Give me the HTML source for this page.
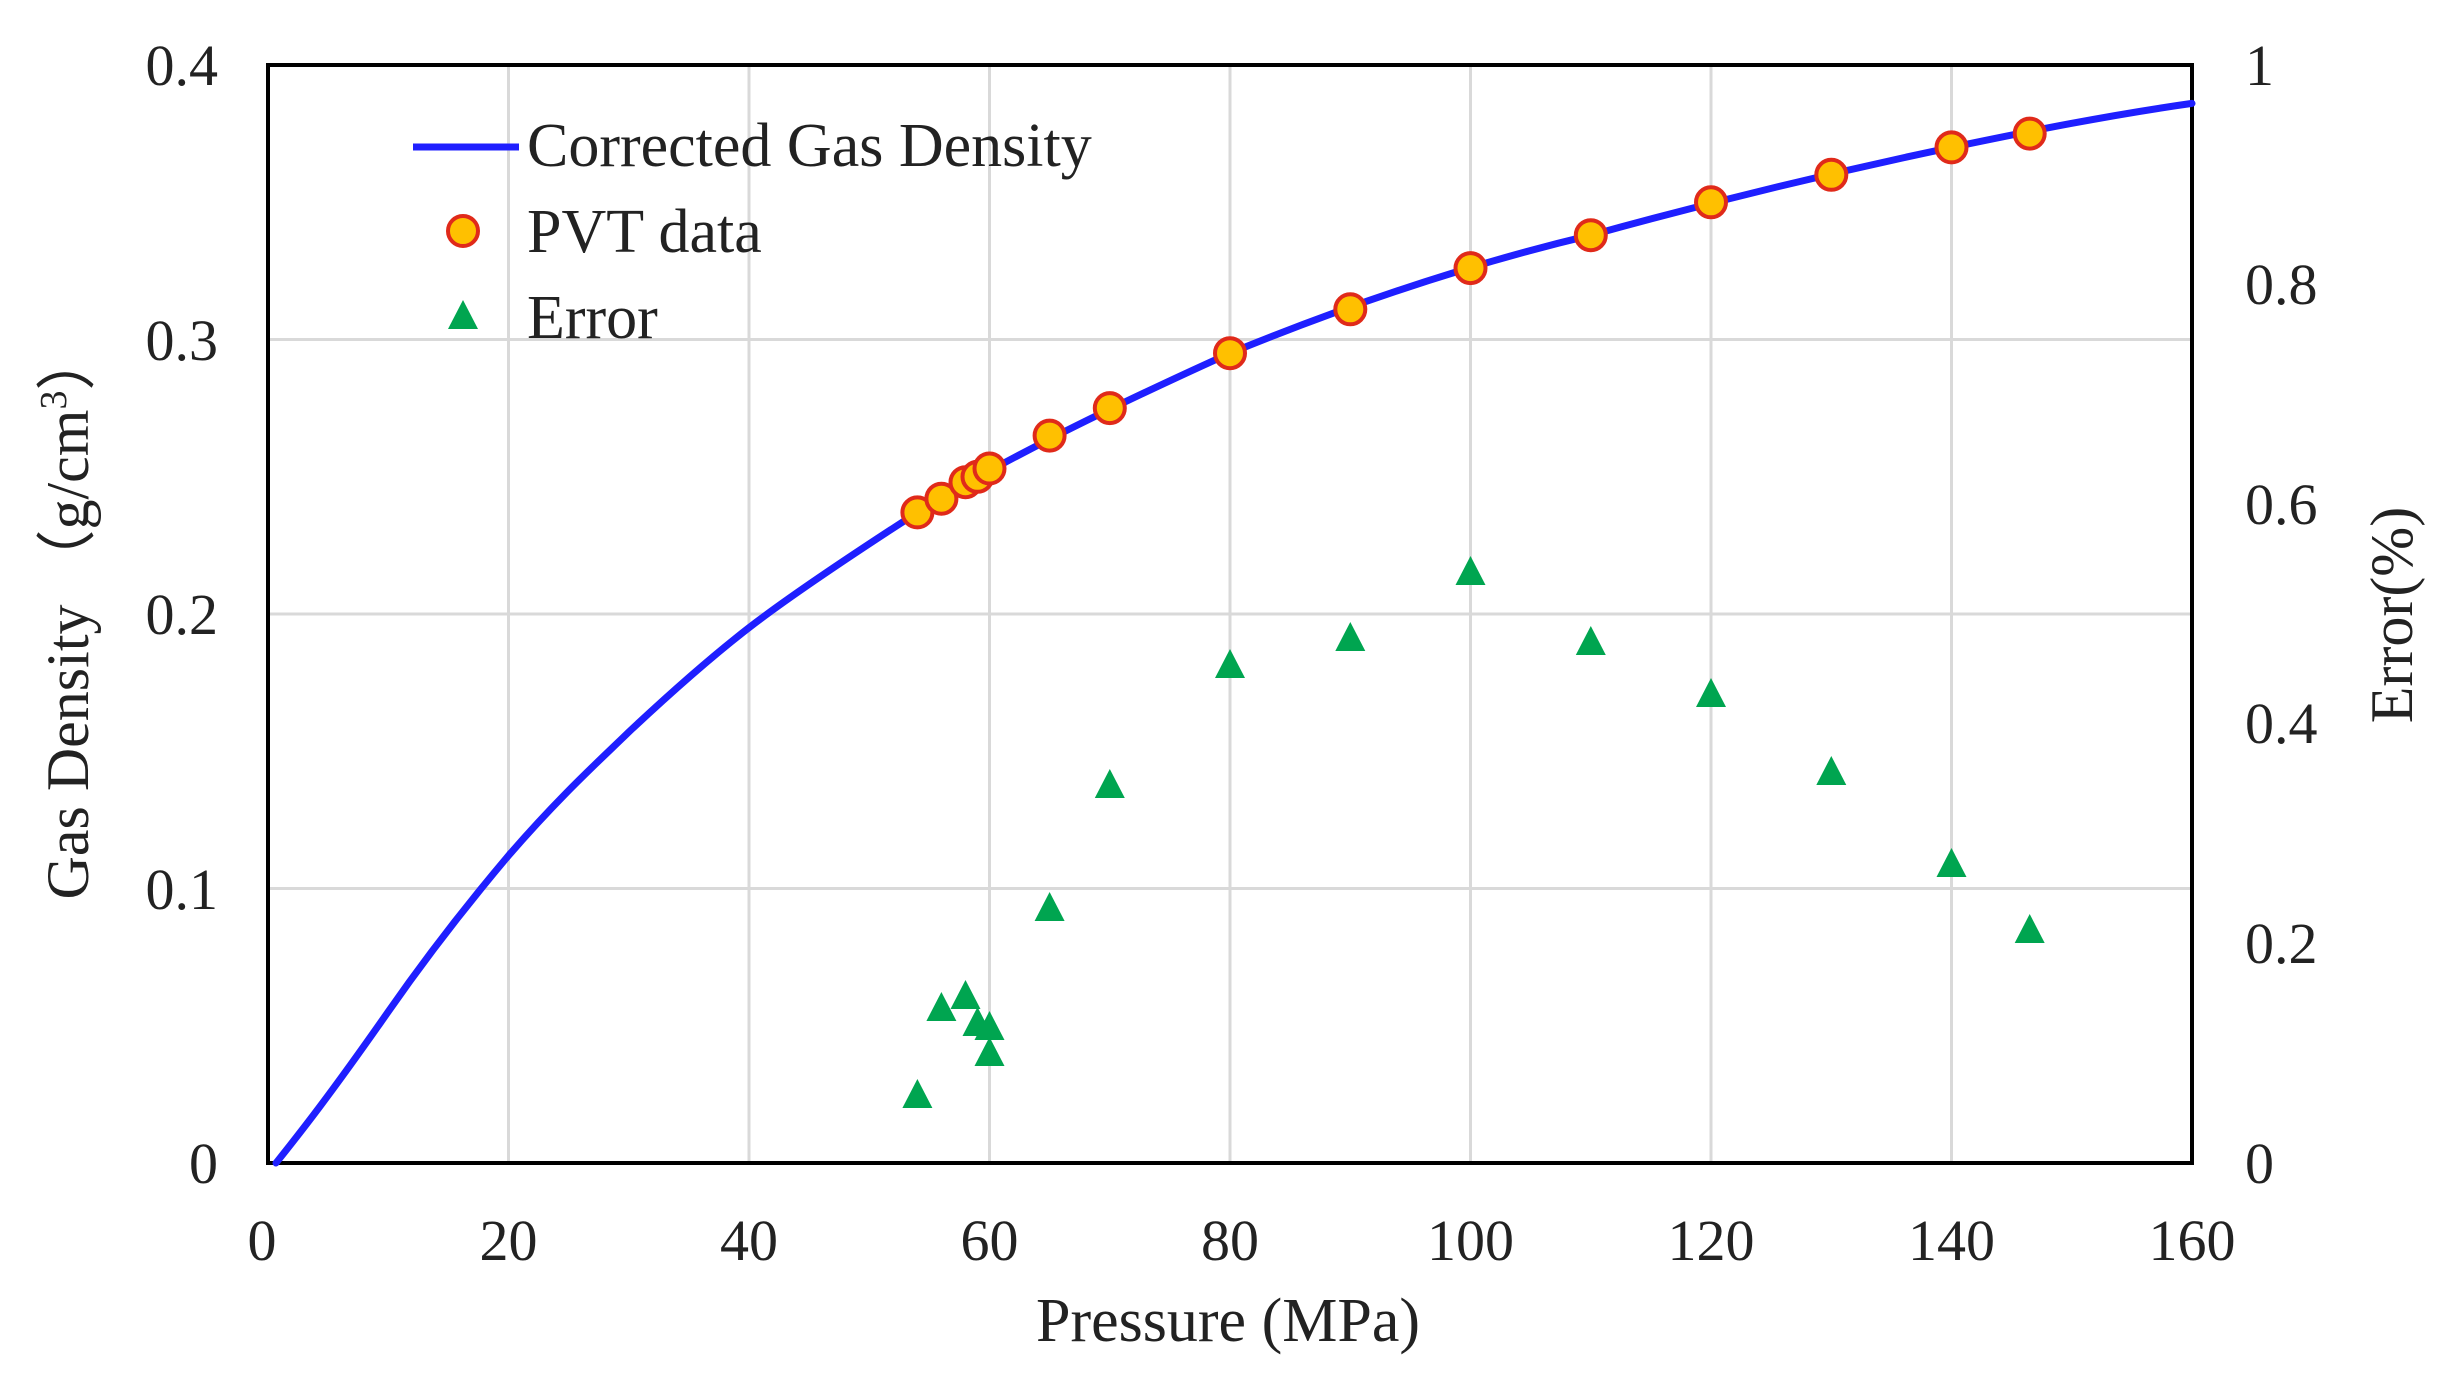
<!DOCTYPE html>
<html><head><meta charset="utf-8"><style>
html,body{margin:0;padding:0;background:#fff;}
svg{display:block;font-family:"Liberation Serif",serif;}
</style></head><body>
<svg width="2444" height="1377" viewBox="0 0 2444 1377" xmlns="http://www.w3.org/2000/svg">
<defs>
<polygon id="tri" points="0,-18 15,11 -15,11" fill="#00a550"/>
<circle id="pvt" r="15" fill="#ffc000" stroke="#e02a1a" stroke-width="4"/>
</defs>
<g stroke="#d9d9d9" stroke-width="3">
<line x1="508.5" y1="65" x2="508.5" y2="1163"/>
<line x1="749" y1="65" x2="749" y2="1163"/>
<line x1="989.5" y1="65" x2="989.5" y2="1163"/>
<line x1="1230" y1="65" x2="1230" y2="1163"/>
<line x1="1470.5" y1="65" x2="1470.5" y2="1163"/>
<line x1="1711" y1="65" x2="1711" y2="1163"/>
<line x1="1951.5" y1="65" x2="1951.5" y2="1163"/>
<line x1="268" y1="339.5" x2="2192" y2="339.5"/>
<line x1="268" y1="614" x2="2192" y2="614"/>
<line x1="268" y1="888.5" x2="2192" y2="888.5"/>
</g>
<rect x="268" y="65" width="1924" height="1098" fill="none" stroke="#000" stroke-width="4"/>
<path fill="none" stroke="#1f1fff" stroke-width="7" stroke-linejoin="round" stroke-linecap="round" d="M276,1163 C300,1133 330,1095 388,1012 C420,966 460,913 508.5,855.6 C560,796 600,760 628.8,732 C680,684 715,654 749,627.7 C790,596 850,556 917.4,512.4 C1000,462 1100,412 1230,353.2 C1350,304 1470,264 1590.8,235.2 C1711,202 1830,173 1951.5,147.4 C2030,131 2110,115 2192,103.4"/>
<g>
<use href="#pvt" x="917.4" y="512.4"/><use href="#pvt" x="941.4" y="498.7"/><use href="#pvt" x="965.5" y="482.2"/><use href="#pvt" x="977.5" y="476.8"/><use href="#pvt" x="989.5" y="468.5"/><use href="#pvt" x="1049.6" y="435.6"/><use href="#pvt" x="1109.8" y="408.1"/><use href="#pvt" x="1230" y="353.2"/><use href="#pvt" x="1350.3" y="309.3"/><use href="#pvt" x="1470.5" y="268.1"/><use href="#pvt" x="1590.8" y="235.2"/><use href="#pvt" x="1711" y="202.3"/><use href="#pvt" x="1831.3" y="174.8"/><use href="#pvt" x="1951.5" y="147.4"/><use href="#pvt" x="2029.7" y="133.6"/>
</g>
<g>
<use href="#tri" x="917.4" y="1097"/><use href="#tri" x="941.4" y="1010"/><use href="#tri" x="965.5" y="998"/><use href="#tri" x="977.5" y="1025"/><use href="#tri" x="989.5" y="1029"/><use href="#tri" x="989.5" y="1055"/><use href="#tri" x="1049.6" y="910"/><use href="#tri" x="1109.8" y="787"/><use href="#tri" x="1230" y="667"/><use href="#tri" x="1350.3" y="640"/><use href="#tri" x="1470.5" y="574"/><use href="#tri" x="1590.8" y="644"/><use href="#tri" x="1711" y="696"/><use href="#tri" x="1831.3" y="774"/><use href="#tri" x="1951.5" y="866"/><use href="#tri" x="2029.7" y="932"/>
</g>
<line x1="413" y1="147" x2="519" y2="147" stroke="#1f1fff" stroke-width="7"/>
<use href="#pvt" x="463" y="231"/>
<use href="#tri" x="463" y="318"/>
<g font-size="62" fill="#222">
<text x="527" y="166">Corrected Gas Density</text>
<text x="527" y="252">PVT data</text>
<text x="527" y="338">Error</text>
</g>
<g font-size="58" fill="#222" text-anchor="end">
<text x="218" y="85">0.4</text>
<text x="218" y="360">0.3</text>
<text x="218" y="634">0.2</text>
<text x="218" y="909">0.1</text>
<text x="218" y="1183">0</text>
</g>
<g font-size="58" fill="#222" text-anchor="start">
<text x="2245" y="85">1</text>
<text x="2245" y="304">0.8</text>
<text x="2245" y="524">0.6</text>
<text x="2245" y="743">0.4</text>
<text x="2245" y="963">0.2</text>
<text x="2245" y="1183">0</text>
</g>
<g font-size="58" fill="#222" text-anchor="middle">
<text x="262" y="1260">0</text>
<text x="508.5" y="1260">20</text>
<text x="749" y="1260">40</text>
<text x="989.5" y="1260">60</text>
<text x="1230" y="1260">80</text>
<text x="1470.5" y="1260">100</text>
<text x="1711" y="1260">120</text>
<text x="1951.5" y="1260">140</text>
<text x="2192" y="1260">160</text>
<text x="1228" y="1341" font-size="62">Pressure (MPa)</text>
<text transform="translate(88,615) rotate(-90)" font-size="60">Gas Density （g/cm<tspan font-size="38" dy="-22">3</tspan><tspan dy="22">）</tspan></text>
<text transform="translate(2412,615) rotate(-90)" font-size="60">Error(%)</text>
</g>
</svg>
</body></html>
